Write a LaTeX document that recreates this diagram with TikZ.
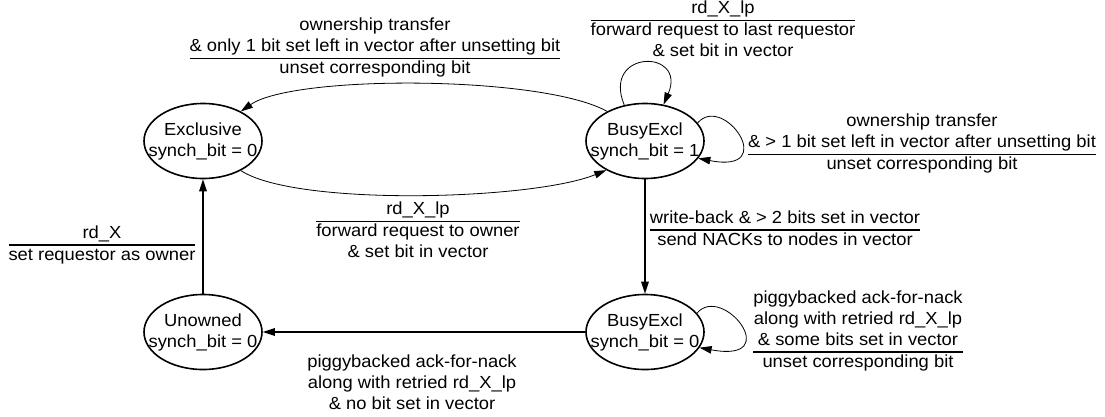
\documentclass[tikz,border=0pt]{standalone}
\usepackage{fontspec}
\setmainfont{Liberation Sans}[FakeStretch=1.05]
\usetikzlibrary{arrows.meta,shapes.geometric}
\newcommand\labfont{\fontsize{17.5}{21}\selectfont}
\setlength\arrayrulewidth{1.2pt}
\begin{document}
\begin{tikzpicture}[x=1pt,y=-1pt,
  state/.style={ellipse, draw, line width=1.6pt, minimum width=118pt, minimum height=75pt,
    inner xsep=-18pt, inner ysep=-4pt, align=center, font=\labfont},
  lbl/.style={inner sep=0pt, font=\labfont},
  tipa/.style={-{Triangle[length=12pt,width=7.5pt]}},
  thinedge/.style={tipa, line width=0.8pt},
  thickedge/.style={tipa, line width=1.6pt}]
\useasboundingbox (0,0) rectangle (1105,416);
% states
\node[state] (ex) at (203,141) {Exclusive\\synch\_bit = 0};
\node[state] (b1) at (645,141) {BusyExcl\\synch\_bit = 1};
\node[state] (un) at (203,332) {Unowned\\synch\_bit = 0};
\node[state] (b0) at (645,332) {BusyExcl\\synch\_bit = 0};
% connectors
\draw[thinedge] (b1.142) .. controls +(-64,-36) and +(53,-37) .. (ex.38);
\draw[thinedge] (ex.-38) .. controls +(55,36) and +(-74,30) .. (b1.217);
\draw[thinedge] (b1.120) .. controls +(-23,-56) and +(24,-56) .. (b1.63);
\draw[thinedge] (b1.19) .. controls +(26,-30) and +(82,16) .. (b1.-18);
\draw[thinedge] (b0.20) .. controls +(26,-30) and +(86,16) .. (b0.-16);
\draw[thickedge] (un.north) -- (ex.south);
\draw[thickedge] (b1.south) -- (b0.north);
\draw[thickedge] (b0.west) -- (un.east);
% labels
\node[lbl] (l1) at (375,48) {\begin{tabular}{@{}c@{}}ownership transfer\\ \& only 1 bit set left in vector after unsetting bit\\ \hline unset corresponding bit\end{tabular}};
\node[lbl] (l2) at (723,31) {\begin{tabular}{@{}c@{}}rd\_X\_lp\\ \hline forward request to last requestor\\ \& set bit in vector\end{tabular}};
\node[lbl] (l3) at (922,144) {\begin{tabular}{@{}c@{}}ownership transfer\\ \& > 1 bit set left in vector after unsetting bit\\ \hline unset corresponding bit\end{tabular}};
\node[lbl] (l4) at (418,232) {\begin{tabular}{@{}c@{}}rd\_X\_lp\\ \hline forward request to owner\\ \& set bit in vector\end{tabular}};
\node[lbl] (l5) at (785,230) {\begin{tabular}{@{}c@{}}write-back \& > 2 bits set in vector\\ \hline send NACKs to nodes in vector\end{tabular}};
\node[lbl] (l6) at (858,331) {\begin{tabular}{@{}c@{}}piggybacked ack-for-nack\\ along with retried rd\_X\_lp\\ \& some bits set in vector\\ \hline unset corresponding bit\end{tabular}};
\node[lbl] (l7) at (412,384) {\begin{tabular}{@{}c@{}}piggybacked ack-for-nack\\ along with retried rd\_X\_lp\\ \& no bit set in vector\end{tabular}};
\node[lbl] (l8) at (102,245) {\begin{tabular}{@{}c@{}}rd\_X\\ \hline set requestor as owner\end{tabular}};
\end{tikzpicture}
\end{document}
